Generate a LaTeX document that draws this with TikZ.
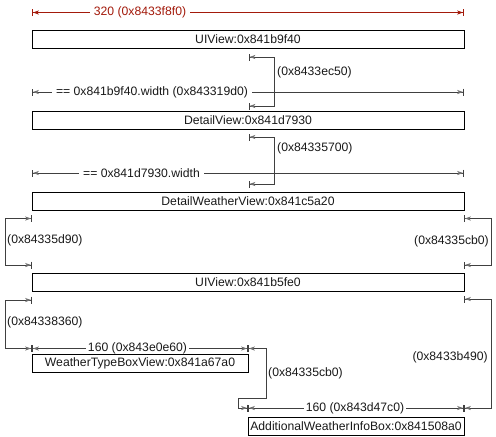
\documentclass[tikz,border=0pt]{standalone}
\usepackage{fontspec}
\setmainfont{Liberation Sans}
\usetikzlibrary{arrows.meta}
\definecolor{dimred}{HTML}{A31A0B}
\definecolor{lnc}{HTML}{404040}
\definecolor{tipg}{HTML}{707070}
\begin{document}
\begin{tikzpicture}[x=1pt,y=-1pt,
  font=\fontsize{12.2}{14}\selectfont,
  box/.style={draw=black, line width=1pt, minimum height=18pt, inner sep=0pt, text=black!90},
  tipsg/.style={{Bar[width=7pt,line width=0.8pt,sep=0pt]Stealth[length=6pt,width=4pt,inset=1.5pt,color=tipg,sep=0pt]}-{Stealth[length=6pt,width=4pt,inset=1.5pt,color=tipg,sep=0pt]Bar[width=7pt,line width=0.8pt,sep=0pt]}},
  tipsr/.style={{Bar[width=7pt,line width=0.8pt,sep=0pt]Stealth[length=6pt,width=4pt,inset=1.5pt,sep=0pt]}-{Stealth[length=6pt,width=4pt,inset=1.5pt,sep=0pt]Bar[width=7pt,line width=0.8pt,sep=0pt]}},
  conn/.style={draw=lnc, line width=0.8pt, tipsg},
  dimg/.style={draw=lnc, line width=0.8pt, tipsg},
  dimr/.style={draw=dimred, line width=0.8pt, tipsr},
  dlbl/.style={fill=white, inner xsep=4pt, inner ysep=0pt, text=black!90},
  dlbls/.style={fill=white, inner xsep=1.5pt, inner ysep=0pt, text=black!90},
  blbl/.style={inner sep=0pt, text=black!90}
]
\useasboundingbox (0,0) rectangle (496,437);

% dimension lines
\coordinate (r1) at (32,12.5); \coordinate (r2) at (464,12.5);
\draw[dimr] (r1) -- (r2);
\node[dlbl, text=dimred] (lr) at (140,12.5) {320 (0x8433f8f0)};

\coordinate (d2a) at (32,92); \coordinate (d2b) at (464,92);
\draw[dimg] (d2a) -- (d2b);
\node[dlbl] (ld2) at (152,92) {== 0x841b9f40.width (0x843319d0)};

\coordinate (d3a) at (32,173); \coordinate (d3b) at (464,173);
\draw[dimg] (d3a) -- (d3b);
\node[dlbl] (ld3) at (141.5,173) {== 0x841d7930.width};

\coordinate (d4a) at (32,348.5); \coordinate (d4b) at (248,348.5);
\draw[dimg] (d4a) -- (d4b);
\node[dlbls] (ld4) at (137.5,348.5) {160 (0x843e0e60)};

\coordinate (d5a) at (248,408); \coordinate (d5b) at (464,408);
\draw[dimg] (d5a) -- (d5b);
\node[dlbls] (ld5) at (355,408) {160 (0x843d47c0)};

% brackets
\coordinate (a1) at (248.5,57); \coordinate (a2) at (248.5,106);
\draw[conn] (a1) -- ++(25.5,0) |- (a2);
\node[blbl, anchor=west] (la) at (277,72) {(0x8433ec50)};

\coordinate (bb1) at (248.5,137); \coordinate (bb2) at (248.5,184);
\draw[conn] (bb1) -- ++(25.5,0) |- (bb2);
\node[blbl, anchor=west] (lb) at (277,148) {(0x84335700)};

\coordinate (c1) at (32,218.5); \coordinate (c2) at (32,265);
\draw[conn] (c1) -- ++(-27,0) |- (c2);
\node[blbl, anchor=west] (lc) at (7,240) {(0x84335d90)};

\coordinate (e1) at (464,218.5); \coordinate (e2) at (464,265);
\draw[conn] (e1) -- ++(27,0) |- (e2);
\node[blbl, anchor=east] (le) at (489,241) {(0x84335cb0)};

\coordinate (f1) at (32,300); \coordinate (f2) at (32,348.5);
\draw[conn] (f1) -- ++(-27,0) |- (f2);
\node[blbl, anchor=west] (lf) at (7,322) {(0x84338360)};

\coordinate (g1) at (248,348.5); \coordinate (g2) at (248,408);
\draw[conn] (g1) -- ++(18,0) -- ++(0,49.5) -- ++(-28,0) |- (g2);
\node[blbl, anchor=west] (lg) at (268,373) {(0x84335cb0)};

\coordinate (h1) at (464,299); \coordinate (h2) at (464,408);
\draw[conn] (h1) -- ++(27,0) |- (h2);
\node[blbl, anchor=east] (lh) at (488,357) {(0x8433b490)};

% boxes
\node[box, minimum width=432pt] (b1) at (248,39) {UIView:0x841b9f40};
\node[box, minimum width=432pt] (b2) at (248,120) {DetailView:0x841d7930};
\node[box, minimum width=432pt] (b3) at (248,201) {DetailWeatherView:0x841c5a20};
\node[box, minimum width=432pt] (b4) at (248,282) {UIView:0x841b5fe0};
\node[box, minimum width=216pt] (b5) at (140,363) {WeatherTypeBoxView:0x841a67a0};
\node[box, minimum width=216pt] (b6) at (356,426) {AdditionalWeatherInfoBox:0x841508a0};
\end{tikzpicture}
\end{document}
